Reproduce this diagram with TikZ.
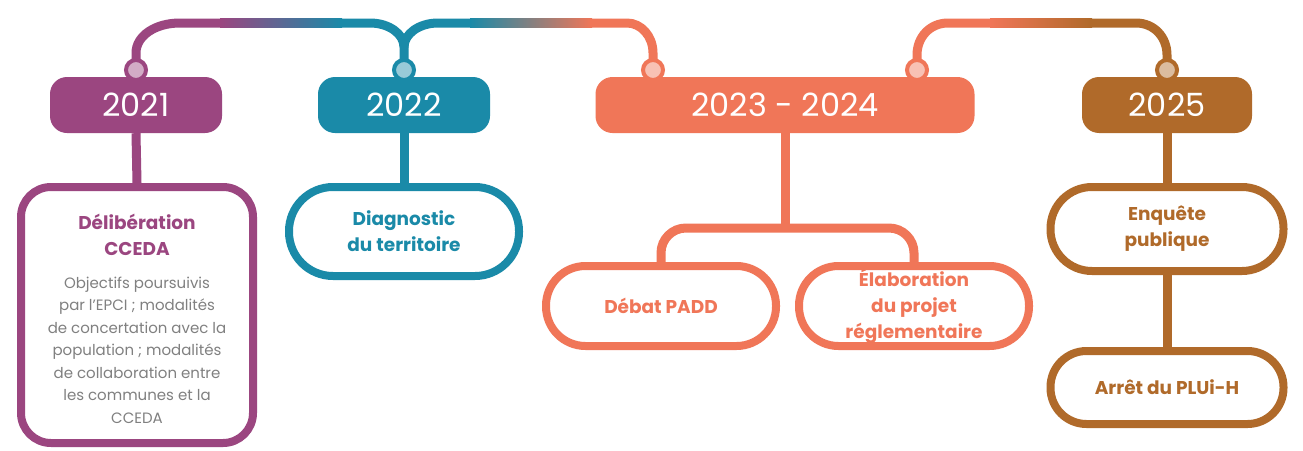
\documentclass[tikz,border=0pt]{standalone}
\usepackage{fontspec}
\setmainfont{Poppins}
\definecolor{cpur}{RGB}{155,70,128}
\definecolor{cteal}{RGB}{26,138,168}
\definecolor{corg}{RGB}{240,118,88}
\definecolor{cbrn}{RGB}{176,106,42}
\definecolor{cgray}{RGB}{128,128,128}
\newcommand\ttlfont{\bfseries\fontsize{18.5}{26}\selectfont}
\newcommand\bdyfont{\fontsize{15}{22.5}\selectfont}
\begin{document}
\begin{tikzpicture}[x=1pt,y=-1pt,
  conn/.style={line width=9pt},
  yearbox/.style={fill=#1, rounded corners=17pt, minimum height=56pt, inner sep=0pt,
    text=white, font=\fontsize{32}{36}\selectfont},
  dotnode/.style={circle, draw=#1, line width=4pt, fill=#1!45!white, minimum size=20pt, inner sep=0pt},
  stagebox/.style={draw=#1, line width=8pt, fill=white, inner sep=0pt, align=center,
    text=#1, font=\ttlfont}]
\useasboundingbox[fill=white] (0,0) rectangle (1303,450);

% lower boxes
\node[stagebox=cpur, rounded corners=30pt, minimum width=232pt, minimum height=256pt] (delib) at (137,315) {};
\node[text=cpur, font=\ttlfont, align=center] (delibT) at (137,235) {Délibération\\CCEDA};
\node[text=cgray, font=\bdyfont, align=center] (delibB) at (137,350)
  {Objectifs poursuivis\\par l’EPCI ; modalités\\de concertation avec la\\population ; modalités\\de collaboration entre\\les communes et la\\CCEDA};
\node[stagebox=cteal, rounded corners=44pt, minimum width=230pt, minimum height=89pt] (diag) at (404,231.5)
  {\fontsize{18.5}{28}\selectfont Diagnostic\\du territoire};
\node[stagebox=corg, rounded corners=39.5pt, minimum width=230pt, minimum height=80pt] (debat) at (661,306) {Débat PADD};
\node[stagebox=corg, rounded corners=39.5pt, minimum width=230pt, minimum height=80pt] (elab) at (914,306)
  {\fontsize{18.5}{21.5}\selectfont Élaboration\\du projet\\réglementaire};
\node[stagebox=cbrn, rounded corners=41.5pt, minimum width=233pt, minimum height=84pt] (enq) at (1167,229) {Enquête\\publique};
\node[stagebox=cbrn, rounded corners=36pt, minimum width=233pt, minimum height=73pt] (arret) at (1167,387.5) {Arrêt du PLUi-H};

% year boxes
\node[yearbox=cpur, minimum width=172pt] (y2021) at (136,105) {2021};
\node[yearbox=cteal, minimum width=172pt] (y2022) at (404,105) {2022};
\node[yearbox=corg, minimum width=379pt] (y2023) at (785,105) {2023 - 2024};
\node[yearbox=cbrn, minimum width=170pt] (y2025) at (1167,105) {2025};

% vertical connectors
\draw[conn, cpur] (y2021.south) -- (delib.north);
\draw[conn, cteal] (y2022.south) -- (diag.north);
\coordinate (j) at (785,228);
\draw[conn, corg] (y2023.south) -- (j);
\draw[conn, corg, rounded corners=25pt] (debat.north) |- (j) -| (elab.north);
\draw[conn, cbrn] (y2025.south) -- (enq.north);
\draw[conn, cbrn] (enq.south) -- (arret.north);

% dots positions
\coordinate (p1) at (136,70);
\coordinate (p2) at (404,70);
\coordinate (p3) at (653,70);
\coordinate (p4) at (917,70);
\coordinate (p5) at (1167,70);

% top connectors
\draw[conn, cpur] (p1) -- (136,53) .. controls (136,36) and (155,23) .. (180,23) -- (222,23);
\shade[left color=cpur, right color=cteal] (220,18.5) rectangle (342,27.5);
\draw[conn, cteal] (340,23) -- (370,23) .. controls (389,23) and (404,34) .. (404,47) -- (p2);
\draw[conn, cteal] (404,47) .. controls (404,34) and (419,23) .. (438,23) -- (472,23);
\shade[left color=cteal, right color=corg] (470,18.5) rectangle (592,27.5);
\draw[conn, corg] (590,23) -- (627,23) .. controls (641,23) and (653,36) .. (653,53) -- (p3);
\draw[conn, corg] (p4) -- (917,55) .. controls (917,37) and (930,23) .. (948,23) -- (992,23);
\shade[left color=corg, right color=cbrn] (990,18.5) rectangle (1092,27.5);
\draw[conn, cbrn] (1090,23) -- (1136,23) .. controls (1154,23) and (1167,37) .. (1167,55) -- (p5);

% dots
\node[dotnode=cpur] (d1) at (p1) {};
\node[dotnode=cteal] (d2) at (p2) {};
\node[dotnode=corg] (d3) at (p3) {};
\node[dotnode=corg] (d4) at (p4) {};
\node[dotnode=cbrn] (d5) at (p5) {};
\end{tikzpicture}
\end{document}
